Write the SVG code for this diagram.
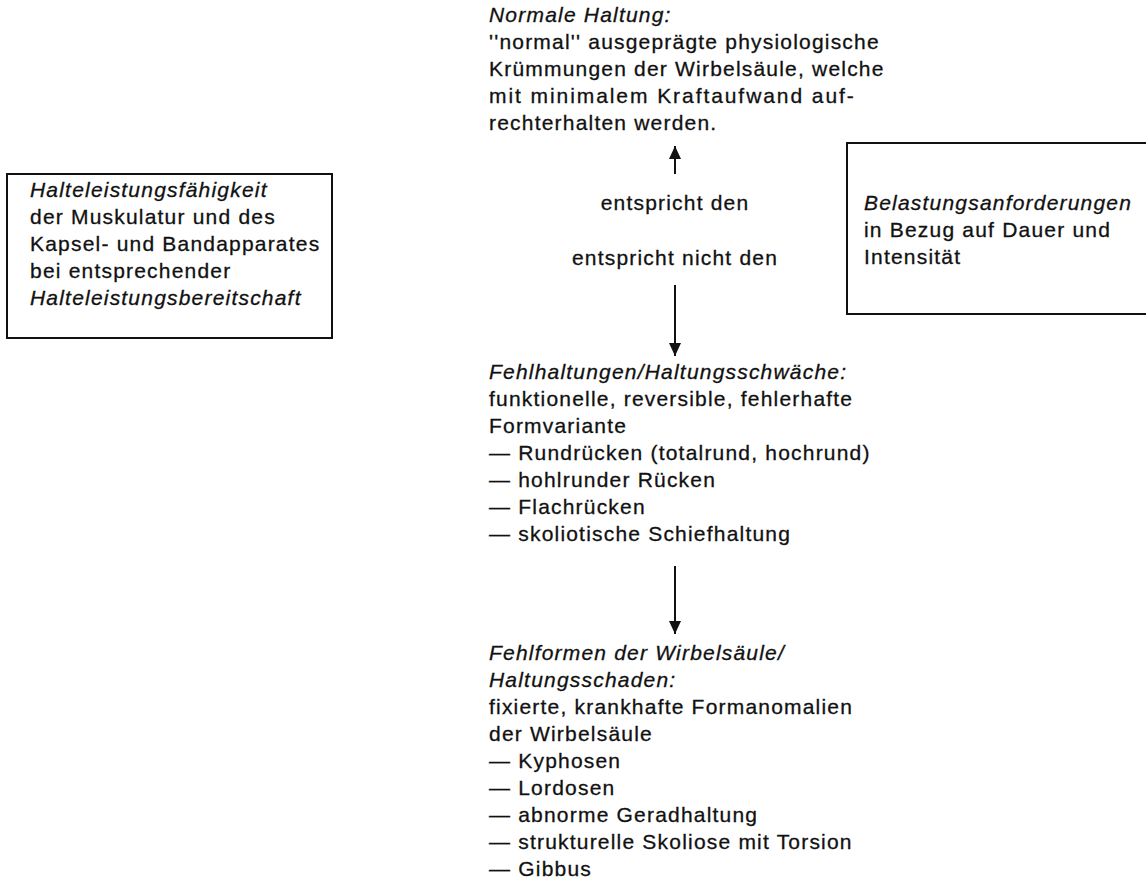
<svg xmlns="http://www.w3.org/2000/svg" width="1146" height="892" viewBox="0 0 1146 892">
<defs>
<style>
text{font-family:"Liberation Sans",Arial,sans-serif;font-size:21px;letter-spacing:1.2px;fill:#111;stroke:#111;stroke-width:0.3px}
.i{font-style:italic}
.c{text-anchor:middle}
.box{fill:none;stroke:#111;stroke-width:2}
.ln{fill:none;stroke:#111;stroke-width:2}
</style>
<marker id="ah" viewBox="0 0 13 12" refX="13" refY="6" markerWidth="13" markerHeight="12" markerUnits="userSpaceOnUse" orient="auto">
<path d="M0,0 L13,6 L0,12 Z" fill="#111"/>
</marker>
</defs>
<rect width="1146" height="892" fill="#fff"/>

<g id="normal">
<text x="489" y="22" class="i">Normale Haltung:</text>
<text x="489" y="49">''normal'' ausgeprägte physiologische</text>
<text x="489" y="76">Krümmungen der Wirbelsäule, welche</text>
<text x="489" y="103" textLength="366" lengthAdjust="spacing">mit minimalem Kraftaufwand auf-</text>
<text x="489" y="130">rechterhalten werden.</text>
</g>

<g id="halteleistung">
<rect x="7" y="174" width="325" height="164" class="box"/>
<text x="30" y="197" class="i">Halteleistungsfähigkeit</text>
<text x="30" y="224">der Muskulatur und des</text>
<text x="30" y="251">Kapsel- und Bandapparates</text>
<text x="30" y="278">bei entsprechender</text>
<text x="30" y="305" class="i">Halteleistungsbereitschaft</text>
</g>

<g id="belastung">
<path d="M1150,143 H847 V314 H1150" class="box"/>
<text x="864" y="210" class="i">Belastungsanforderungen</text>
<text x="864" y="237">in Bezug auf Dauer und</text>
<text x="864" y="264">Intensität</text>
</g>

<g id="labels">
<text x="675" y="210" class="c">entspricht den</text>
<text x="675" y="265" class="c">entspricht nicht den</text>
</g>

<g id="fehlhaltungen">
<text x="489" y="379" class="i">Fehlhaltungen/Haltungsschwäche:</text>
<text x="489" y="406">funktionelle, reversible, fehlerhafte</text>
<text x="489" y="433">Formvariante</text>
<text x="489" y="460">— Rundrücken (totalrund, hochrund)</text>
<text x="489" y="487">— hohlrunder Rücken</text>
<text x="489" y="514">— Flachrücken</text>
<text x="489" y="541">— skoliotische Schiefhaltung</text>
</g>

<g id="fehlformen">
<text x="489" y="660" class="i">Fehlformen der Wirbelsäule/</text>
<text x="489" y="687" class="i">Haltungsschaden:</text>
<text x="489" y="714">fixierte, krankhafte Formanomalien</text>
<text x="489" y="741">der Wirbelsäule</text>
<text x="489" y="768">— Kyphosen</text>
<text x="489" y="795">— Lordosen</text>
<text x="489" y="822">— abnorme Geradhaltung</text>
<text x="489" y="849">— strukturelle Skoliose mit Torsion</text>
<text x="489" y="876">— Gibbus</text>
</g>

<g id="connectors">
<line x1="675" y1="174" x2="675" y2="146" class="ln" marker-end="url(#ah)"/>
<line x1="675" y1="285" x2="675" y2="356" class="ln" marker-end="url(#ah)"/>
<line x1="675" y1="566" x2="675" y2="634" class="ln" marker-end="url(#ah)"/>
</g>
</svg>
